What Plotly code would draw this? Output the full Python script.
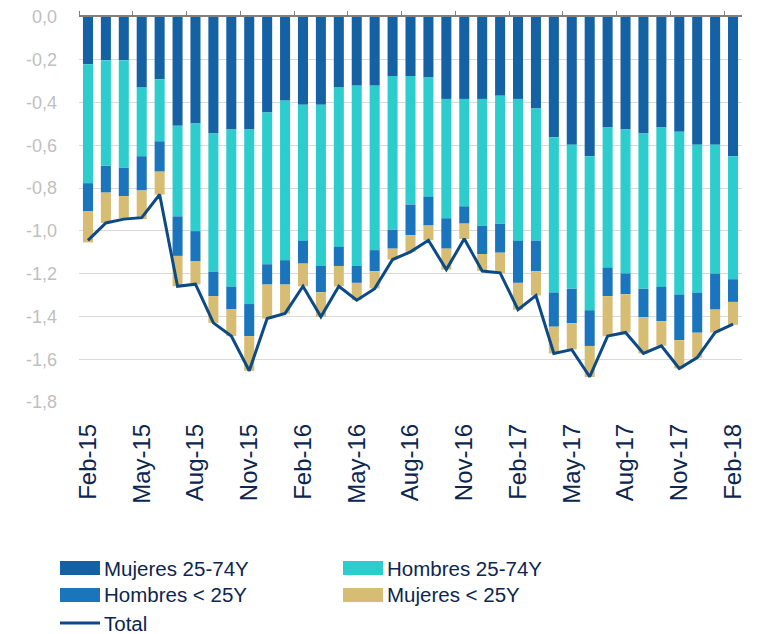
import plotly.graph_objects as go

months = ["Feb-15", "Mar-15", "Apr-15", "May-15", "Jun-15", "Jul-15", "Aug-15", "Sep-15", "Oct-15",
          "Nov-15", "Dec-15", "Jan-16", "Feb-16", "Mar-16", "Apr-16", "May-16", "Jun-16", "Jul-16",
          "Aug-16", "Sep-16", "Oct-16", "Nov-16", "Dec-16", "Jan-17", "Feb-17", "Mar-17", "Apr-17",
          "May-17", "Jun-17", "Jul-17", "Aug-17", "Sep-17", "Oct-17", "Nov-17", "Dec-17", "Jan-18",
          "Feb-18"]

mujeres_25_74 = [-0.221, -0.202, -0.202, -0.330, -0.291, -0.508, -0.498, -0.545, -0.526, -0.526,
                 -0.447, -0.391, -0.410, -0.410, -0.330, -0.321, -0.321, -0.276, -0.276, -0.283,
                 -0.383, -0.383, -0.383, -0.368, -0.383, -0.428, -0.562, -0.597, -0.651, -0.517,
                 -0.526, -0.545, -0.517, -0.536, -0.597, -0.597, -0.651]
hombres_25_74 = [-0.556, -0.494, -0.503, -0.321, -0.290, -0.424, -0.503, -0.646, -0.735, -0.816,
                 -0.709, -0.746, -0.637, -0.754, -0.745, -0.843, -0.769, -0.718, -0.601, -0.558,
                 -0.558, -0.502, -0.593, -0.598, -0.664, -0.618, -0.726, -0.674, -0.720, -0.656,
                 -0.673, -0.726, -0.745, -0.762, -0.692, -0.603, -0.575]
hombres_menos_25 = [-0.132, -0.125, -0.132, -0.160, -0.142, -0.185, -0.142, -0.114, -0.106, -0.150,
                    -0.095, -0.114, -0.106, -0.123, -0.089, -0.079, -0.098, -0.089, -0.143, -0.134,
                    -0.142, -0.081, -0.132, -0.136, -0.196, -0.142, -0.160, -0.160, -0.167, -0.132,
                    -0.097, -0.132, -0.160, -0.213, -0.187, -0.168, -0.106]
mujeres_menos_25 = [-0.145, -0.142, -0.104, -0.134, -0.107, -0.142, -0.107, -0.125, -0.125, -0.162,
                    -0.159, -0.136, -0.106, -0.115, -0.095, -0.081, -0.081, -0.051, -0.078, -0.069,
                    -0.098, -0.072, -0.079, -0.095, -0.125, -0.114, -0.125, -0.123, -0.145, -0.187,
                    -0.179, -0.170, -0.115, -0.132, -0.117, -0.107, -0.107]
total = [-1.044, -0.963, -0.945, -0.938, -0.830, -1.259, -1.249, -1.430, -1.492, -1.654,
         -1.410, -1.386, -1.259, -1.402, -1.259, -1.324, -1.270, -1.134, -1.098, -1.044,
         -1.181, -1.037, -1.188, -1.196, -1.368, -1.302, -1.573, -1.555, -1.682, -1.492,
         -1.475, -1.573, -1.537, -1.643, -1.592, -1.475, -1.436]

y_ticks = [0.0, -0.2, -0.4, -0.6, -0.8, -1.0, -1.2, -1.4, -1.6, -1.8]
y_labels = ["0,0", "-0,2", "-0,4", "-0,6", "-0,8", "-1,0", "-1,2", "-1,4", "-1,6", "-1,8"]

font = "Liberation Sans, Arial, sans-serif"
navy = "#0c2650"

# the page body adds an 8px margin, so the figure is a bit smaller than the window
OFF = 8
W, H = 759 - OFF, 634 - OFF
L, R, T, B = 79 - OFF, 17, 17 - OFF, 232
pw, ph = W - L - R, H - T - B


def px(x):
    return (x - OFF - L) / pw


def py(y):
    return (H - B - (y - OFF)) / ph


fig = go.Figure()
bars = [("Mujeres 25-74Y", mujeres_25_74, "#1461a3"),
        ("Hombres 25-74Y", hombres_25_74, "#2ecdcd"),
        ("Hombres < 25Y", hombres_menos_25, "#1b75bc"),
        ("Mujeres < 25Y", mujeres_menos_25, "#d7bd74")]
for name, vals, color in bars:
    fig.add_trace(go.Bar(x=months, y=vals, name=name, marker_color=color, marker_line_width=0))

line_color = "#0c4a85"
fig.add_trace(go.Scatter(x=months, y=total, mode="lines", name="Total",
                         line=dict(color=line_color, width=3)))

# axis line with ticks along the zero line at the top
fig.add_trace(go.Scatter(x=[-0.5, 36.5], y=[0, 0], mode="lines", xaxis="x2",
                         line=dict(width=0), showlegend=False, hoverinfo="skip"))

# legend drawn by hand: wide swatches in two columns
slots = [(60, 568), (343, 568), (60, 595), (343, 595)]
for (name, _, color), (sx, sy) in zip(bars, slots):
    fig.add_shape(type="rect", xref="paper", yref="paper", x0=px(sx), x1=px(sx + 40),
                  y0=py(sy + 7), y1=py(sy - 7), fillcolor=color, line_width=0)
    fig.add_annotation(xref="paper", yref="paper", x=px(sx + 42), y=py(sy), text=name,
                       showarrow=False, xanchor="left", yanchor="middle",
                       font=dict(size=20.5, color=navy))
fig.add_shape(type="line", xref="paper", yref="paper", x0=px(60), x1=px(100),
              y0=py(623), y1=py(623), line=dict(color=line_color, width=3))
fig.add_annotation(xref="paper", yref="paper", x=px(102), y=py(623), text="Total",
                   showarrow=False, xanchor="left", yanchor="middle",
                   font=dict(size=20.5, color=navy))

fig.update_layout(
    width=W, height=H,
    barmode="relative", bargap=0.44, showlegend=False,
    plot_bgcolor="white", paper_bgcolor="white",
    margin=dict(l=L, r=R, t=T, b=B, autoexpand=False),
    font=dict(family=font, color=navy),
    xaxis=dict(type="category", tickvals=months[::3], ticktext=months[::3], tickangle=-90,
               tickfont=dict(size=24, color=navy), showgrid=False, ticks="", showline=False,
               automargin=False, ticklabelstandoff=16),
    xaxis2=dict(overlaying="x", side="top", anchor="y", range=[-0.5, 36.5],
                tickmode="linear", tick0=-0.5, dtick=3, ticks="outside", ticklen=4,
                tickcolor="#808080", showline=True, linecolor="#808080", linewidth=1.5,
                showticklabels=False, showgrid=False, zeroline=False, automargin=False),
    yaxis=dict(range=[-1.8, 0], tickvals=y_ticks, ticktext=y_labels,
               tickfont=dict(size=18, color="#bfbfbf"), showgrid=True, gridcolor="#d9d9d9",
               gridwidth=1, zeroline=False, showline=False, ticks="", ticklabelstandoff=21,
               ticklabeloverflow="allow", automargin=False),
)

fig.write_html("out.html")
